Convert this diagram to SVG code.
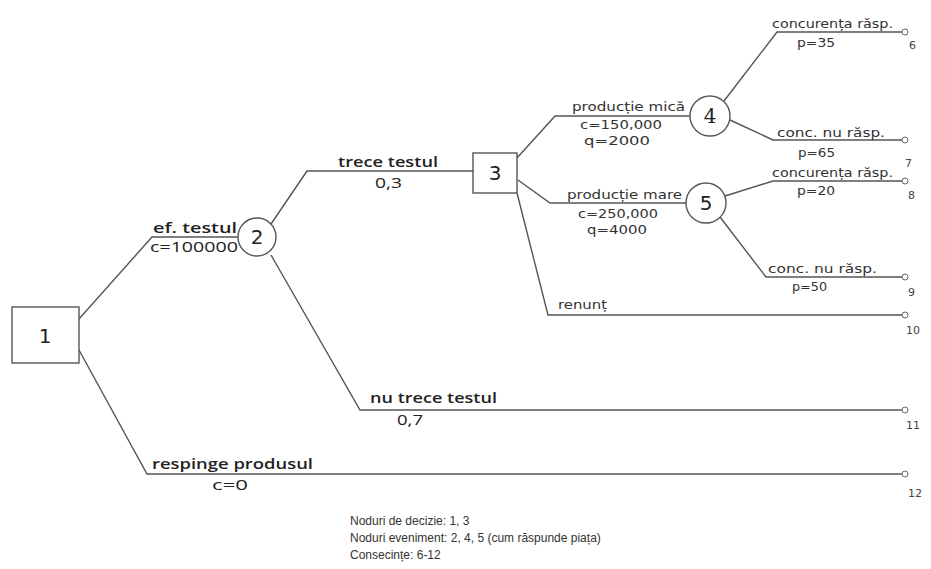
<svg xmlns="http://www.w3.org/2000/svg" width="931" height="569" viewBox="0 0 931 569">
<style>
.ln{fill:none;stroke:#555;stroke-width:1.4}
.nd{fill:#fff;stroke:#555;stroke-width:1.4}
.ep{fill:#fff;stroke:#666;stroke-width:1}
.big{font-family:"Open Sans","DejaVu Sans",sans-serif;font-size:15px;font-weight:600;fill:#222}
.val{font-family:"Open Sans","DejaVu Sans",sans-serif;font-size:14px;font-weight:400;fill:#222}
.sm{font-family:"DejaVu Sans",sans-serif;font-size:12px;fill:#333}
.num{font-family:"DejaVu Sans",sans-serif;font-size:11px;fill:#444}
.nl{font-family:"DejaVu Sans",sans-serif;font-size:20px;fill:#222;text-anchor:middle}
.lg{font-family:"Liberation Sans",Arial,sans-serif;font-size:12px;fill:#333}
</style>
<rect width="931" height="569" fill="#fff"/>
<g id="connectors">
<polyline class="ln" points="79,319 152,237 238,237"/>
<polyline class="ln" points="79,350 147,474 902,474"/>
<polyline class="ln" points="271,224 307,171 473,171"/>
<polyline class="ln" points="271,255 360,410 902,410"/>
<polyline class="ln" points="517,158 555,116 690,116"/>
<polyline class="ln" points="518,180 550,203 686,203"/>
<polyline class="ln" points="517,193 548,315 902,315"/>
<polyline class="ln" points="724,101 777,32 902,32"/>
<polyline class="ln" points="730,120 773,140 902,140"/>
<polyline class="ln" points="725,196 773,181 902,181"/>
<polyline class="ln" points="720,217 766,277 902,277"/>
</g>
<g id="node1"><rect class="nd" x="12" y="307" width="67" height="56"/><text class="nl" x="45" y="343">1</text></g>
<g id="node2"><circle class="nd" cx="257" cy="237" r="19"/><text class="nl" x="257" y="244">2</text></g>
<g id="node3"><rect class="nd" x="473" y="153" width="44" height="40"/><text class="nl" x="495" y="180">3</text></g>
<g id="node4"><circle class="nd" cx="710" cy="116" r="20"/><text class="nl" x="710" y="123" style="font-family:'DejaVu Serif',serif">4</text></g>
<g id="node5"><circle class="nd" cx="706" cy="203" r="20"/><text class="nl" x="706" y="210">5</text></g>
<g id="node6"><circle class="ep" cx="905" cy="32" r="3"/><text class="num" x="909" y="49">6</text></g>
<g id="node7"><circle class="ep" cx="905" cy="140" r="3"/><text class="num" x="905" y="167">7</text></g>
<g id="node8"><circle class="ep" cx="905" cy="181" r="3"/><text class="num" x="908" y="199">8</text></g>
<g id="node9"><circle class="ep" cx="905" cy="277" r="3"/><text class="num" x="908" y="296">9</text></g>
<g id="node10"><circle class="ep" cx="905" cy="315" r="3"/><text class="num" x="906" y="334">10</text></g>
<g id="node11"><circle class="ep" cx="905" cy="410" r="3"/><text class="num" x="906" y="429">11</text></g>
<g id="node12"><circle class="ep" cx="905" cy="474" r="3"/><text class="num" x="908" y="497">12</text></g>
<g id="labels">
<text class="big" x="153" y="233" textLength="84" lengthAdjust="spacingAndGlyphs">ef. testul</text>
<text class="val" x="150" y="252" textLength="88" lengthAdjust="spacingAndGlyphs">c=100000</text>
<text class="big" x="338" y="167" textLength="100" lengthAdjust="spacingAndGlyphs">trece testul</text>
<text class="val" x="375" y="188" textLength="27" lengthAdjust="spacingAndGlyphs">0,3</text>
<text class="big" x="370" y="403" textLength="127" lengthAdjust="spacingAndGlyphs">nu trece testul</text>
<text class="val" x="397" y="425" textLength="26" lengthAdjust="spacingAndGlyphs">0,7</text>
<text class="big" x="152" y="469" textLength="161" lengthAdjust="spacingAndGlyphs">respinge produsul</text>
<text class="val" x="212" y="490" textLength="36" lengthAdjust="spacingAndGlyphs">c=0</text>
<text class="sm" x="572" y="111" textLength="113" lengthAdjust="spacingAndGlyphs">producție mică</text>
<text class="sm" x="580" y="129" textLength="82" lengthAdjust="spacingAndGlyphs">c=150,000</text>
<text class="sm" x="584" y="145" textLength="66" lengthAdjust="spacingAndGlyphs">q=2000</text>
<text class="sm" x="567" y="199" textLength="115" lengthAdjust="spacingAndGlyphs">producție mare</text>
<text class="sm" x="578" y="218" textLength="80" lengthAdjust="spacingAndGlyphs">c=250,000</text>
<text class="sm" x="587" y="234" textLength="60" lengthAdjust="spacingAndGlyphs">q=4000</text>
<text class="sm" x="772" y="28" textLength="121" lengthAdjust="spacingAndGlyphs">concurența răsp.</text>
<text class="sm" x="797" y="47" textLength="38" lengthAdjust="spacingAndGlyphs">p=35</text>
<text class="sm" x="777" y="137" textLength="108" lengthAdjust="spacingAndGlyphs">conc. nu răsp.</text>
<text class="sm" x="798" y="157" textLength="37" lengthAdjust="spacingAndGlyphs">p=65</text>
<text class="sm" x="772" y="177" textLength="121" lengthAdjust="spacingAndGlyphs">concurența răsp.</text>
<text class="sm" x="797" y="195" textLength="38" lengthAdjust="spacingAndGlyphs">p=20</text>
<text class="sm" x="768" y="273" textLength="109" lengthAdjust="spacingAndGlyphs">conc. nu răsp.</text>
<text class="sm" x="792" y="291" textLength="35" lengthAdjust="spacingAndGlyphs">p=50</text>
<text class="sm" x="558" y="309" textLength="49" lengthAdjust="spacingAndGlyphs">renunț</text>
</g>
<g id="legend">
<text class="lg" x="350" y="525">Noduri de decizie: 1, 3</text>
<text class="lg" x="350" y="542">Noduri eveniment: 2, 4, 5 (cum răspunde piața)</text>
<text class="lg" x="350" y="559">Consecințe: 6-12</text>
</g>
</svg>
